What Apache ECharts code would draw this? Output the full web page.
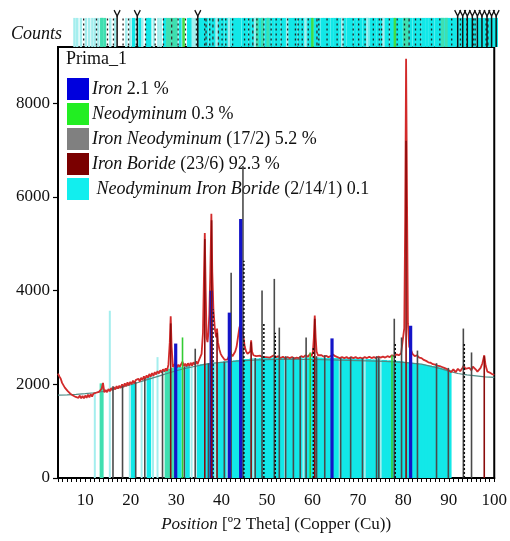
<!DOCTYPE html>
<html><head><meta charset="utf-8">
<script src="https://cdn.jsdelivr.net/npm/echarts@6/dist/echarts.min.js"></script>
<style>html,body{margin:0;padding:0;background:#fff}#c{width:510px;height:541px}</style>
</head><body><div id="c"></div>
<script>
// ---------- data ----------
const xTickLabels = [10, 20, 30, 40, 50, 60, 70, 80, 90, 100];
const yTickLabels = [0, 2000, 4000, 6000, 8000];
const phaseNames = ['Iron', 'Neodyminum', 'Iron Neodyminum', 'Iron Boride', 'Neodyminum Iron Boride'];
const phaseCodes = ['', '', '(17/2) ', '(23/6) ', '(2/14/1) '];
const phaseAmounts = ['2.1 %', '0.3 %', '5.2 %', '92.3 %', '0.1'];

// measured pattern [2theta, counts]
const measured = [
[4.0,2230],[4.3,2170],[4.6,2120],[4.9,2030],[5.2,2000],[5.5,1930],[5.8,1910],[6.1,1860],[6.4,1850],[6.7,1800],[7.0,1810],[7.3,1760],[7.6,1790],[7.9,1730],[8.2,1770],[8.5,1710],[8.8,1760],[9.1,1700],[9.4,1750],[9.7,1700],[10.0,1760],[10.3,1710],[10.6,1780],[10.9,1720],[11.2,1790],[11.5,1740],[11.8,1800],[12.1,1760],[12.4,1820],[12.7,1780],[13.0,1840],[13.3,1800],[13.6,1900],[13.9,2030],[14.2,1830],[14.5,1880],[14.8,1830],[15.1,1900],[15.4,1850],[15.7,1920],[16.0,1870],[16.3,1940],[16.6,1890],[16.9,1960],[17.2,1910],[17.5,1970],[17.8,1920],[18.1,2000],[18.4,1940],[18.7,2020],[19.0,1960],[19.3,2040],[19.6,1980],[19.9,2050],[20.2,2000],[20.5,2080],[20.8,2020],[21.1,2090],[21.4,2050],[21.7,2120],[22.0,2060],[22.3,2140],[22.6,2090],[22.9,2170],[23.2,2110],[23.5,2190],[23.8,2140],[24.1,2220],[24.4,2160],[24.7,2240],[25.0,2180],[25.3,2260],[25.6,2210],[25.9,2280],[26.2,2230],[26.5,2300],[26.8,2250],[27.1,2320],[27.4,2270],[27.7,2340],[28.0,2290],[28.3,2420],[28.6,2900],[28.8,3450],[29.0,2800],[29.3,2370],[29.6,2410],[29.9,2460],[30.2,2360],[30.5,2420],[30.8,2370],[31.1,2430],[31.4,2480],[31.7,2390],[32.0,2440],[32.3,2380],[32.6,2450],[32.9,2390],[33.2,2460],[33.5,2400],[33.8,2470],[34.1,2420],[34.4,2490],[34.7,2430],[35.0,2510],[35.3,2470],[35.6,2650],[35.9,3100],[36.1,4200],[36.3,5230],[36.5,4000],[36.7,3000],[36.9,2900],[37.1,3100],[37.3,3500],[37.5,4300],[37.75,5640],[37.95,4400],[38.2,3600],[38.5,3200],[38.8,3000],[39.0,3190],[39.2,2900],[39.5,2750],[39.8,2650],[40.1,2600],[40.4,2560],[40.7,2520],[41.0,2500],[41.3,2530],[41.6,2600],[41.9,2700],[42.1,2650],[42.4,2600],[42.7,2620],[43.0,2700],[43.3,2800],[43.6,3000],[43.9,3200],[44.2,3300],[44.5,3200],[44.8,3000],[45.1,2800],[45.4,2700],[45.7,2650],[46.0,2620],[46.3,2700],[46.5,2940],[46.7,2700],[47.0,2620],[47.3,2580],[47.6,2600],[48.0,2570],[48.5,2610],[49.0,2580],[49.4,2620],[49.8,2580],[50.2,2600],[50.6,2570],[51.0,2590],[51.5,2620],[52.0,2580],[52.5,2600],[53.0,2560],[53.5,2590],[54.0,2550],[54.5,2580],[55.0,2560],[55.5,2580],[56.0,2550],[56.5,2570],[57.0,2560],[57.5,2600],[58.0,2580],[58.5,2620],[59.0,2590],[59.5,2650],[59.8,2600],[60.1,2700],[60.3,3000],[60.5,3470],[60.7,3000],[60.9,2700],[61.2,2620],[61.6,2600],[62.0,2620],[62.5,2590],[63.0,2610],[63.5,2580],[64.0,2600],[64.5,2640],[65.0,2600],[65.5,2580],[66.0,2560],[66.5,2580],[67.0,2560],[67.5,2580],[68.0,2550],[68.5,2580],[69.0,2560],[69.5,2580],[70.0,2550],[70.5,2570],[71.0,2550],[71.5,2580],[72.0,2560],[72.5,2590],[73.0,2560],[73.5,2580],[74.0,2560],[74.5,2590],[75.0,2570],[75.5,2590],[76.0,2570],[76.5,2600],[77.0,2580],[77.5,2620],[78.0,2600],[78.5,2640],[79.0,2620],[79.5,2660],[79.9,2700],[80.2,3200],[80.4,5500],[80.6,8950],[80.8,6000],[81.0,3300],[81.3,2800],[81.6,2750],[82.0,2650],[82.5,2600],[83.0,2620],[83.5,2570],[84.0,2560],[84.5,2520],[85.0,2500],[85.5,2470],[86.0,2460],[86.5,2430],[87.0,2420],[87.5,2400],[88.0,2390],[88.5,2370],[89.0,2350],[89.5,2330],[90.0,2300],[90.5,2260],[91.0,2320],[91.5,2260],[92.0,2330],[92.5,2280],[93.0,2350],[93.3,2400],[93.6,2330],[94.0,2290],[94.5,2350],[95.0,2300],[95.3,2380],[95.6,2420],[95.9,2320],[96.3,2270],[96.7,2310],[97.0,2350],[97.4,2450],[97.8,2620],[98.1,2400],[98.5,2270],[99.0,2250],[99.5,2220],[100.0,2200]
];

// fitted background
const background = [
[4,1770],[6,1775],[8,1785],[10,1800],[12,1820],[14,1850],[16,1890],[18,1940],[20,1990],[22,2050],[24,2110],[26,2170],[28,2230],[30,2290],[32,2340],[34,2380],[36,2420],[38,2450],[40,2470],[44,2500],[48,2520],[52,2530],[56,2530],[60,2530],[64,2520],[68,2510],[72,2500],[76,2490],[80,2470],[84,2430],[88,2340],[90,2280],[92,2230],[94,2200],[96,2180],[98,2160],[100,2150]
];

// reference sticks [2theta, height]
const ironSticks = [[29.9,2870],[37.7,4000],[41.7,3530],[44.2,5530],[64.3,2980],[81.6,3250]];
const neodyminumSticks = [[31.4,3000],[59.5,2680],[77.5,2620]];
const ironNeodyminumSticks = [
[16.1,1960],[18.2,1960],[21.1,2050],[23.1,2120],[27.0,2280],[31.8,2380],[34.2,2760],[37.1,2450],[40.6,2480],[42.1,4380],[44.7,6660],[47.4,2560],[48.9,4000],[51.6,4250],[52.7,3210],[54.1,2600],[55.8,2580],[57.3,2600],[58.6,3000],[60.9,2600],[62.7,2620],[66.2,2560],[68.4,2580],[71.0,2560],[74.1,2600],[74.6,2580],[78.0,3400],[79.6,3000],[83.1,2720],[87.3,2450],[89.9,2350],[93.2,3190],[95.0,2680]
];
const ironBorideSticks = [[28.8,3300],[36.3,5100],[37.8,5500],[39.0,3100],[46.5,2900],[60.5,3400],[80.6,7200],[97.8,2600]];
const nibSticks = [
[20.5,2010],[24.0,2150],[30.7,2370],[32.5,2390],[35.1,2420],[35.8,2430],[36.4,2440],[37.2,2450],[37.9,2460],[38.5,2460],[39.3,2470],[40.0,2480],[40.8,2490],[41.5,2500],[42.3,2500],[43.0,2510],[43.6,2520],[44.4,2530],[45.1,2540],[45.9,2540],[46.6,2550],[47.2,2550],[48.0,2550],[48.7,2560],[49.5,2560],[50.1,2560],[50.9,2560],[51.6,2570],[52.2,2570],[53.0,2570],[53.7,2570],[54.5,2570],[55.2,2570],[55.8,2570],[56.6,2570],[57.3,2570],[58.1,2570],[58.8,2570],[59.4,2570],[60.2,2570],[60.9,2570],[61.7,2570],[62.3,2560],[63.0,2560],[63.8,2560],[64.5,2560],[65.1,2560],[65.9,2560],[66.6,2550],[67.4,2550],[68.0,2550],[68.8,2550],[69.5,2550],[70.1,2540],[70.9,2540],[71.6,2540],[72.4,2540],[73.0,2530],[73.8,2530],[74.5,2530],[75.2,2520],[75.9,2520],[76.7,2510],[77.3,2510],[78.1,2500],[78.8,2500],[79.5,2490],[80.3,2480],[80.9,2470],[81.7,2460],[82.4,2450],[83.0,2440],[83.8,2430],[84.5,2420],[85.2,2410],[85.8,2400],[86.6,2390],[87.3,2380],[88.0,2360],[88.7,2340],[89.4,2320],[90.1,2300]
];
const nibPaleSticks = [[12.1,1830],[15.4,3570],[19.8,1990],[22.4,2080],[24.9,2180],[25.9,2580],[33.4,2380],[34.3,2400],[38.6,2460],[41.3,2490],[47.0,2550],[54.0,2570],[58.0,2570],[66.0,2560],[71.5,2540],[75.0,2520]];
const nibMintSticks = [[13.6,2020],[27.9,2320],[28.5,2330],[29.1,2350],[29.6,2360]];
const dottedSticks = [[38.1,3600],[44.9,4640],[49.3,3300],[51.8,3100],[60.2,2800],[78.2,2900],[93.4,2900]];
// extra reference positions shown only in the top strip
const stripPale = [7.6, 8.2, 9.0, 10.1, 10.8, 11.5, 12.8, 16.5, 18.9, 26.4, 31.2, 33.9];
const stripCyan = [21.9, 23.5, 27.3, 33.0, 34.7, 90.6, 91.3, 92.0, 92.7, 93.5, 94.2, 94.9, 95.7, 96.4, 97.1, 97.9, 98.6, 99.3, 99.9];
const stripDark = [9.6, 12.4, 14.8, 19.4, 25.2, 30.2, 36.0, 39.8, 45.6, 50.5, 56.4, 64.9, 69.6, 72.8, 76.3, 82.0, 85.5, 91.8, 94.6, 97.4];
const stripGreen = [13.5, 14.2, 29.8, 47.5, 48.6, 49.8, 79.6, 80.2, 87.9, 88.7];
const peakMarks = [16.9, 21.3, 34.5, 91.2, 92.3, 93.3, 94.4, 95.5, 96.5, 97.6, 98.6, 99.6];

// ---------- rendering ----------
const SERIF = '"Liberation Serif", "Times New Roman", serif';
const X_MIN = 4, X_MAX = 100, Y_MAX = 9200;

function stickRender(w, color, dash, opacity) {
  return function (params, api) {
    const x = api.value(0), h = api.value(1);
    const a = api.coord([x, 0]), b = api.coord([x, h]);
    if (dash) {
      return {type: 'line', shape: {x1: a[0], y1: a[1], x2: b[0], y2: b[1]},
        style: {stroke: color, lineWidth: w, lineDash: dash}};
    }
    return {type: 'rect', shape: {x: a[0] - w / 2, y: b[1], width: w, height: a[1] - b[1]},
      style: {fill: color, opacity: opacity == null ? 1 : opacity}};
  };
}
function stickSeries(name, data, w, color, z, dash, opacity) {
  return {type: 'custom', name: name, xAxisIndex: 0, yAxisIndex: 0, data: data, z: z, clip: true,
    itemStyle: {color: color}, encode: {x: 0, y: 1}, silent: true,
    renderItem: stickRender(w, color, dash, opacity)};
}
function stripSeries(positions, w, color, z, dash, lo, hi) {
  return {type: 'custom', xAxisIndex: 1, yAxisIndex: 1, z: z, silent: true, clip: true,
    data: positions.map(p => [p]),
    renderItem: function (params, api) {
      const x = api.value(0);
      const a = api.coord([x, lo]), b = api.coord([x, hi]);
      if (dash) return {type: 'line', shape: {x1: a[0], y1: a[1], x2: b[0], y2: b[1]},
        style: {stroke: color, lineWidth: w, lineDash: dash}};
      return {type: 'rect', shape: {x: a[0] - w / 2, y: b[1], width: w, height: a[1] - b[1]}, style: {fill: color}};
    }};
}
const first = arr => arr.map(d => d[0]);

const CYAN = '#12e8e8', PALE = '#a4eeee', MINT = '#3fdfb0';

const series = [
  stickSeries(phaseNames[4], nibSticks, 4.6, CYAN, 2),
  stickSeries(phaseNames[4], nibMintSticks, 4, MINT, 2),
  stickSeries(phaseNames[4], nibPaleSticks, 2, PALE, 3),
  {type: 'line', name: 'bg', data: background, xAxisIndex: 0, yAxisIndex: 0, z: 4, symbol: 'none', silent: true,
    lineStyle: {color: '#4f8c86', width: 1.2}},
  {type: 'line', name: 'meas', data: measured, xAxisIndex: 0, yAxisIndex: 0, z: 5, symbol: 'none', silent: true,
    lineStyle: {color: '#d22a2a', width: 1.8}},
  stickSeries(phaseNames[2], ironNeodyminumSticks, 1.6, '#4a4a4a', 6),
  stickSeries('dots', dottedSticks, 1.6, '#111', 6, [2, 2]),
  stickSeries(phaseNames[1], neodyminumSticks, 1.6, '#33cc33', 6),
  stickSeries(phaseNames[0], ironSticks, 3.2, '#1414c8', 7),
  stickSeries(phaseNames[3], ironBorideSticks, 1.6, '#8a0c0c', 8),
  // top reference strip
  stripSeries(first(nibSticks).concat(stripCyan), 3.5, CYAN, 2, null, 0, 0.97),
  stripSeries(stripPale.concat(first(nibPaleSticks)), 2.5, PALE, 3, null, 0, 0.97),
  stripSeries(first(nibMintSticks).concat(stripGreen), 3, MINT, 3, null, 0, 0.97),
  stripSeries(first(ironNeodyminumSticks).concat(stripDark), 1.3, '#222', 4, [2, 3], 0.05, 0.95),
  stripSeries(first(ironBorideSticks), 1.3, '#333', 4, [3, 3], 0.05, 0.95),
  stripSeries(first(neodyminumSticks), 2.5, '#44dd44', 4, null, 0, 0.97),
  {type: 'custom', xAxisIndex: 1, yAxisIndex: 1, z: 6, silent: true, data: peakMarks.map(p => [p]),
    renderItem: function (params, api) {
      const x = api.value(0);
      const a = api.coord([x, 0]), b = api.coord([x, 1.03]);
      return {type: 'group', children: [
        {type: 'line', shape: {x1: a[0], y1: a[1], x2: b[0], y2: b[1]}, style: {stroke: '#111', lineWidth: 1.5}},
        {type: 'polyline', shape: {points: [[b[0] - 3, b[1] - 6], [b[0], b[1]], [b[0] + 3, b[1] - 6]]},
          style: {stroke: '#111', lineWidth: 1.3, fill: null}}
      ]};
    }}
];

const legendColors = ['#0000dd', '#22ee22', '#808080', '#7a0000', '#12eeee'];
const chart = echarts.init(document.getElementById('c'), null, {renderer: 'canvas'});
chart.setOption({
  animation: false,
  backgroundColor: '#fff',
  grid: [
    {left: 58, right: 14, top: 47, bottom: 63, show: true, borderColor: '#000', borderWidth: 2, backgroundColor: 'transparent'},
    {left: 58, right: 12, top: 11, height: 36}
  ],
  xAxis: [
    {type: 'value', gridIndex: 0, min: X_MIN, max: X_MAX, interval: 1, position: 'bottom',
      axisLine: {show: true, onZero: false, lineStyle: {color: '#000', width: 2}},
      axisTick: {show: true, length: 4, lineStyle: {color: '#000', width: 1}},
      splitLine: {show: false},
      axisLabel: {customValues: xTickLabels, color: '#111', fontFamily: SERIF, fontSize: 17, margin: 14,
        formatter: v => String(v)},
      name: '{i|Position} [º2 Theta] (Copper (Cu))', nameLocation: 'middle', nameGap: 38,
      nameTextStyle: {color: '#111', fontFamily: SERIF, fontSize: 17,
        rich: {i: {fontStyle: 'italic', fontFamily: SERIF, fontSize: 17, color: '#111'}}}},
    {type: 'value', gridIndex: 1, min: X_MIN, max: X_MAX, show: false}
  ],
  yAxis: [
    {type: 'value', gridIndex: 0, min: 0, max: Y_MAX,
      axisLine: {show: true, lineStyle: {color: '#000', width: 2}},
      axisTick: {show: true, length: 5, customValues: yTickLabels, lineStyle: {color: '#000', width: 1.2}},
      axisLabel: {customValues: yTickLabels, color: '#111', fontFamily: SERIF, fontSize: 17, margin: 8,
        formatter: v => String(v)},
      splitLine: {show: false}},
    {type: 'value', gridIndex: 1, min: 0, max: 1.2, show: false}
  ],
  legend: {
    orient: 'vertical', left: 62, top: 73, itemWidth: 22, itemHeight: 22, itemGap: 3, icon: 'rect',
    selectedMode: false,
    data: phaseNames.map((n, i) => ({name: n, itemStyle: {color: legendColors[i]}})),
    formatter: function (name) {
      const i = phaseNames.indexOf(name);
      return '{i|' + (i === 4 ? ' ' : '') + name + '} {r|' + phaseCodes[i] + phaseAmounts[i] + '}';
    },
    textStyle: {fontFamily: SERIF, fontSize: 18, color: '#111', padding: [0, 0, 0, -2],
      rich: {i: {fontStyle: 'italic', fontFamily: SERIF, fontSize: 18, color: '#111'},
             r: {fontFamily: SERIF, fontSize: 18, color: '#111'}}}
  },
  graphic: [
    {type: 'text', left: 66, top: 50, style: {text: 'Prima_1', font: '18px ' + SERIF, fill: '#111'}},
    {type: 'text', left: 11, top: 25, style: {text: 'Counts', font: 'italic 18px ' + SERIF, fill: '#111'}}
  ],
  series: series
});
</script>
</body></html>
